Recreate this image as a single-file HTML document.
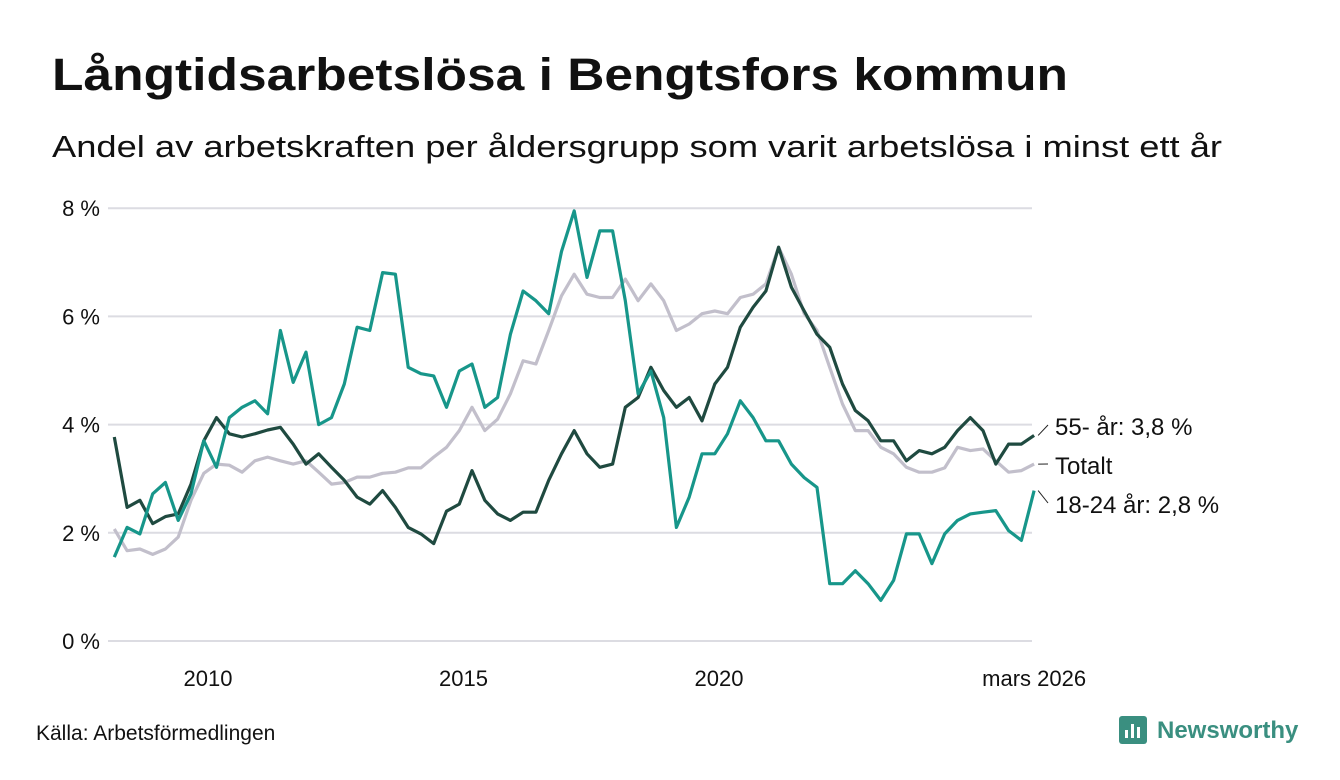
<!DOCTYPE html>
<html><head><meta charset="utf-8"><style>
html,body{margin:0;padding:0;background:#fff;}
svg{display:block;font-family:"Liberation Sans",sans-serif;}
</style></head><body>
<svg id="chart" width="1340" height="780" viewBox="0 0 1340 780" xmlns="http://www.w3.org/2000/svg">
<text x="52" y="90" font-size="45" font-weight="bold" fill="#111" textLength="1016" lengthAdjust="spacingAndGlyphs">Långtidsarbetslösa i Bengtsfors kommun</text>
<text x="52" y="157" font-size="31" fill="#111" textLength="1170" lengthAdjust="spacingAndGlyphs">Andel av arbetskraften per åldersgrupp som varit arbetslösa i minst ett år</text>
<g id="grid"></g>
<g id="series"></g>
<g id="labels"></g>
<text x="36" y="740" font-size="21" fill="#111">Källa: Arbetsförmedlingen</text>
<g>
<rect x="1119" y="716" width="28" height="28" rx="3" fill="#3a8f80"/>
<rect x="1125" y="730" width="3" height="8" fill="#fff"/><rect x="1131" y="724" width="3" height="14" fill="#fff"/><rect x="1137" y="727" width="3" height="11" fill="#fff"/>
<text x="1157" y="738" font-size="24" font-weight="bold" fill="#3a8f80">Newsworthy</text>
</g>
</svg>
<script>
const startYear = 2008.167;
const stepYears = 0.25;
const yTicks = [0, 2, 4, 6, 8];
const xTickYears = [2010, 2015, 2020];
const xTickLabels = ["2010", "2015", "2020"];
const endLabel = "mars 2026";
const totalt = [2.07,1.67,1.7,1.6,1.7,1.92,2.6,3.1,3.27,3.25,3.12,3.33,3.4,3.33,3.27,3.33,3.12,2.9,2.93,3.03,3.03,3.1,3.12,3.2,
3.2,3.4,3.58,3.89,4.32,3.89,4.1,4.57,5.18,5.12,5.74,6.38,6.78,6.41,6.35,6.35,6.69,6.29,6.6,6.29,5.74,5.86,6.05,6.1,
6.05,6.35,6.41,6.6,7.28,6.78,6.05,5.74,5.06,4.38,3.89,3.89,3.58,3.46,3.21,3.12,3.12,3.2,3.58,3.52,3.55,3.33,3.12,3.15,3.27];
const age55 = [3.77,2.47,2.6,2.17,2.3,2.35,2.9,3.7,4.13,3.83,3.77,3.83,3.9,3.95,3.64,3.27,3.46,3.21,2.97,2.66,2.53,2.78,2.47,2.1,
1.98,1.8,2.4,2.53,3.15,2.6,2.35,2.23,2.38,2.38,2.97,3.46,3.89,3.46,3.21,3.27,4.32,4.5,5.06,4.63,4.32,4.5,4.07,4.75,
5.06,5.8,6.17,6.47,7.28,6.54,6.1,5.67,5.43,4.75,4.26,4.07,3.7,3.7,3.33,3.52,3.46,3.58,3.89,4.13,3.89,3.27,3.64,3.64,3.8];
const age1824 = [1.55,2.1,1.98,2.72,2.93,2.23,2.72,3.7,3.21,4.13,4.32,4.44,4.2,5.74,4.78,5.34,4.0,4.13,4.75,5.8,5.74,6.81,6.78,5.06,
4.94,4.9,4.32,4.99,5.12,4.32,4.5,5.67,6.47,6.29,6.05,7.2,7.95,6.72,7.58,7.58,6.29,4.57,4.99,4.13,2.1,2.66,3.46,3.46,
3.83,4.44,4.13,3.7,3.7,3.27,3.02,2.84,1.06,1.06,1.3,1.06,0.75,1.12,1.98,1.98,1.43,1.98,2.23,2.35,2.38,2.41,2.04,1.86,2.78];
const seriesLabels = ["55- år: 3,8 %", "Totalt", "18-24 år: 2,8 %"];

const NS = "http://www.w3.org/2000/svg";
const x0 = 108, x1 = 1032;
const xScale = t => 208 + (t - 2010) * 51.1;
const yScale = v => 641 - v * 54.1;
function mk(tag, attrs, parent){const e=document.createElementNS(NS,tag);for(const k in attrs)e.setAttribute(k,attrs[k]);parent.appendChild(e);return e;}
const grid=document.getElementById('grid');
yTicks.forEach(v=>{
  const l=mk('line',{x1:x0,x2:x1,y1:yScale(v),y2:yScale(v),stroke:'#dcdce2','stroke-width':2},grid);
  
  
  const t=mk('text',{x:100,y:yScale(v)+8,'font-size':22,'text-anchor':'end',fill:'#111'},grid);
  t.textContent=v+' %';
  
  
});
xTickYears.forEach((yr,i)=>{
  const t=mk('text',{x:xScale(yr),y:686,'font-size':22,'text-anchor':'middle',fill:'#111'},grid);
  t.textContent=xTickLabels[i];
  
  
});
const lastT = startYear + (totalt.length-1)*stepYears;
const te=mk('text',{x:xScale(lastT),y:686,'font-size':22,'text-anchor':'middle',fill:'#111'},grid);
te.textContent=endLabel;



const sg=document.getElementById('series');
function draw(arr,color,name){
  const d=arr.map((v,i)=>(i?'L':'M')+xScale(startYear+i*stepYears).toFixed(1)+','+yScale(v).toFixed(1)).join('');
  const p=mk('path',{d:d,fill:'none',stroke:color,'stroke-width':3.2,'stroke-linejoin':'round'},sg);
  
  
}
draw(totalt,'#c2bfcb','line-totalt');
draw(age55,'#1f4a40','line-55-plus');
draw(age1824,'#17968a','line-18-24');

const lg=document.getElementById('labels');
const ends=[age55[age55.length-1],totalt[totalt.length-1],age1824[age1824.length-1]];
const labelY=[427,466,505];
ends.forEach((v,i)=>{
  const ex=xScale(lastT)+4, ey=yScale(v);
  const l=mk('path',{d:`M${ex},${ey} L${1048},${labelY[i]-2}`,fill:'none',stroke:'#222','stroke-width':1},lg);
  
  
  const t=mk('text',{x:1055,y:labelY[i]+8,'font-size':24,fill:'#111'},lg);
  t.textContent=seriesLabels[i];
  
  
});
</script>
</body></html>
